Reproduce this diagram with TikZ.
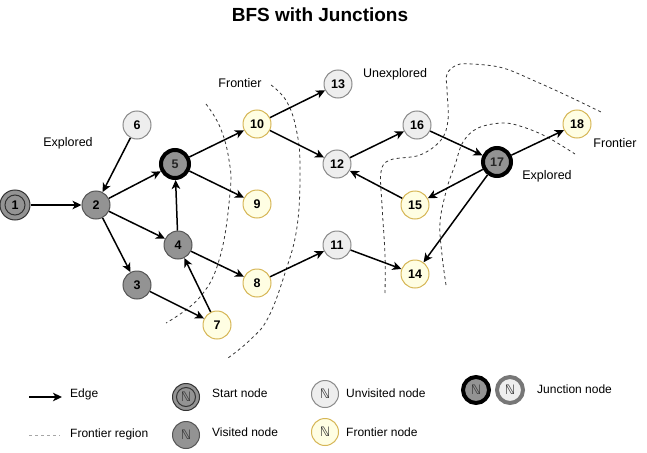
\documentclass[tikz,border=0pt]{standalone}
\usepackage{fontspec}
\setmainfont{Liberation Sans}
\newfontfamily\djv{DejaVu Sans}
\usetikzlibrary{arrows.meta}
\definecolor{visfill}{HTML}{939393}
\definecolor{visdraw}{HTML}{555555}
\definecolor{unfill}{HTML}{EEEEEE}
\definecolor{undraw}{HTML}{8A8A8A}
\definecolor{frfill}{HTML}{FFFEE3}
\definecolor{frdraw}{HTML}{D6B656}
\definecolor{txtgray}{HTML}{333333}
\definecolor{dashcol}{HTML}{333333}
\definecolor{jgray}{HTML}{777777}
\begin{document}
\begin{tikzpicture}[x=1pt,y=-1pt,
  base/.style={circle, minimum size=28pt, inner sep=0pt, font=\fontsize{12.5}{12.5}\selectfont\bfseries, line width=1pt},
  visited/.style={base, fill=visfill, draw=visdraw},
  unvis/.style={base, fill=unfill, draw=undraw},
  front/.style={base, fill=frfill, draw=frdraw},
  junction/.style={base, fill=visfill, draw=black, line width=4pt, text=black!85},
  edgearrow/.style={-{Stealth[length=9pt,width=8.5pt,inset=2.5pt]}, line width=1.5pt},
  frontier/.style={dash pattern=on 3pt off 3pt, line width=0.8pt, draw=dashcol},
  lbl/.style={font=\fontsize{12.5}{12.5}\selectfont, inner sep=0pt},
  leg/.style={font=\fontsize{12}{12}\selectfont, inner sep=0pt, anchor=west},
  legnode/.style={circle, minimum size=27pt, inner sep=0pt, line width=1pt, font=\djv\fontsize{13}{13}\selectfont, text=txtgray}
]
\useasboundingbox (0,0) rectangle (647,452);

\node[font=\fontsize{19}{19}\selectfont\bfseries, inner sep=0pt] (title) at (320,15) {BFS with Junctions};

% frontier regions
\draw[frontier] plot[smooth, tension=0.7] coordinates {(206,104) (220,127) (229,160) (230,193) (220,257) (200,297) (166,323)};
\draw[frontier] plot[smooth, tension=0.7] coordinates {(271,85) (287,102) (297,133) (300,170) (297,227) (285,273) (268,318) (250,340) (228,358)};
\draw[frontier] plot[smooth, tension=0.6] coordinates {(385,293) (385,255) (382,205) (381,172) (390,160) (420,155) (441,140) (448,120) (447,90) (447,74) (457,65) (472,64) (503,68) (537,82) (570,97) (603,113)};
\draw[frontier] plot[smooth, tension=0.6] coordinates {(446,285) (442,255) (440,222) (447,188) (455,165) (463,142) (478,128) (503,123) (523,127) (547,137) (575,154)};

% nodes
\node[visited, minimum size=30pt, draw=txtgray] (n1) at (15,205) {};
\draw[txtgray, line width=1pt] (n1.center) circle (10pt);
\node[base, font=\fontsize{12.5}{12.5}\selectfont\bfseries] (n1t) at (15,205) {1};
\node[visited] (n2) at (96,205) {2};
\node[visited] (n3) at (137,285) {3};
\node[visited] (n4) at (178,245) {4};
\node[junction] (n5) at (175,164) {5};
\node[unvis] (n6) at (137,125) {6};
\node[front] (n7) at (217,325) {7};
\node[front] (n8) at (257,283) {8};
\node[front] (n9) at (257,204) {9};
\node[front] (n10) at (257,124) {10};
\node[unvis] (n11) at (337,245) {11};
\node[unvis] (n12) at (337,164) {12};
\node[unvis] (n13) at (338,84) {13};
\node[front] (n14) at (415,274) {14};
\node[front] (n15) at (415,205) {15};
\node[unvis] (n16) at (417,125) {16};
\node[junction] (n17) at (497,162) {17};
\node[front] (n18) at (577,124) {18};

% edges
\draw[edgearrow] (n1) -- (n2);
\draw[edgearrow] (n6) -- (n2);
\draw[edgearrow] (n2) -- (n5);
\draw[edgearrow] (n2) -- (n4);
\draw[edgearrow] (n2) -- (n3);
\draw[edgearrow] (n4) -- (n5);
\draw[edgearrow] (n5) -- (n10);
\draw[edgearrow] (n5) -- (n9);
\draw[edgearrow] (n4) -- (n8);
\draw[edgearrow] (n3) -- (n7);
\draw[edgearrow] (n7) -- (n4);
\draw[edgearrow] (n8) -- (n11);
\draw[edgearrow] (n10) -- (n13);
\draw[edgearrow] (n10) -- (n12);
\draw[edgearrow] (n11) -- (n14);
\draw[edgearrow] (n12) -- (n16);
\draw[edgearrow] (n15) -- (n12);
\draw[edgearrow] (n16) -- (n17);
\draw[edgearrow] (n17) -- (n18);
\draw[edgearrow] (n17) -- (n15);
\draw[edgearrow] (n17) -- (n14);

% region labels
\node[lbl] (lexp1) at (68,143) {Explored};
\node[lbl] (lfr1) at (240,83) {Frontier};
\node[lbl] (lunexp) at (395,74) {Unexplored};
\node[lbl] (lfr2) at (615,143) {Frontier};
\node[lbl] (lexp2) at (547,176) {Explored};

% legend
\coordinate (ea) at (29,397);
\coordinate (eb) at (62,397);
\draw[edgearrow] (ea) -- (eb);
\node[leg] (tedge) at (70,394) {Edge};
\coordinate (fa) at (29,435);
\coordinate (fb) at (60,435);
\draw[dash pattern=on 3pt off 3pt, line width=1pt, draw=gray!70] (fa) -- (fb);
\node[leg] (tfr) at (70,434) {Frontier region};

\node[legnode, fill=visfill, draw=txtgray] (lstart) at (186,397) {};
\draw[txtgray, line width=1pt] (lstart.center) circle (9.5pt);
\node[legnode, draw=none] (lstartt) at (186,397) {ℕ};
\node[leg] (tstart) at (212,393) {Start node};

\node[legnode, fill=visfill, draw=visdraw] (lvis) at (186,435) {ℕ};
\node[leg] (tvis) at (212,432) {Visited node};

\node[legnode, fill=unfill, draw=undraw] (lun) at (325,394) {ℕ};
\node[leg] (tun) at (346,393) {Unvisited node};

\node[legnode, fill=frfill, draw=frdraw] (lfr) at (325,432) {ℕ};
\node[leg] (tfrn) at (346,432) {Frontier node};

\node[legnode, minimum size=26pt, fill=visfill, draw=black, line width=4pt] (lj1) at (476,390) {ℕ};
\node[legnode, minimum size=26pt, fill=unfill, draw=jgray, line width=4pt] (lj2) at (510,390) {ℕ};
\node[leg] (tj) at (537,389) {Junction node};
\end{tikzpicture}
\end{document}
